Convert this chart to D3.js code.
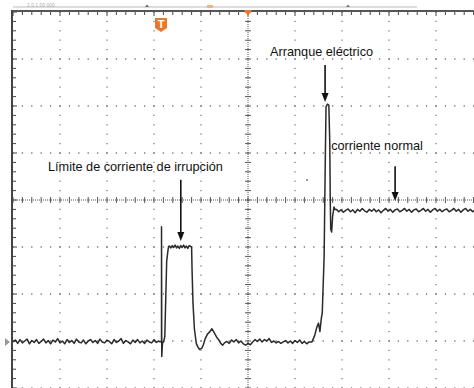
<!DOCTYPE html>
<html>
<head>
<meta charset="utf-8">
<script src="https://cdn.jsdelivr.net/npm/d3@7"></script>
<style>
  html, body { margin: 0; padding: 0; background: #fff; }
  svg { display: block; }
  text { font-family: "Liberation Sans", Arial, Helvetica, sans-serif; }
</style>
</head>
<body>
<script>
// ---- Data (time and current in screen divisions) ----
const gridDivX = [0, 1, 2, 3, 4, 5, 6, 7, 8, 9, 10];
const gridDivY = [-4, -3, -2, -1, 0, 1, 2, 3, 4];

const baselineBefore = [
  [0.00,-3.02],[0.05,-2.98],[0.10,-3.05],[0.15,-2.97],[0.20,-3.04],[0.25,-3.00],[0.30,-2.96],[0.35,-3.06],
  [0.40,-2.99],[0.45,-3.03],[0.50,-2.97],[0.55,-3.05],[0.60,-3.01],[0.65,-2.96],[0.70,-3.04],[0.75,-2.99],
  [0.80,-3.06],[0.85,-2.98],[0.90,-3.02],[0.95,-2.95],[1.00,-3.04],[1.05,-3.00],[1.10,-3.06],[1.15,-2.97],
  [1.20,-3.03],[1.25,-2.99],[1.30,-3.05],[1.35,-2.96],[1.40,-3.02],[1.45,-3.04],[1.50,-2.98],[1.55,-3.06],
  [1.60,-3.00],[1.65,-2.97],[1.70,-3.03],[1.75,-2.99],[1.80,-3.05],[1.85,-2.96],[1.90,-3.02],[1.95,-3.04],
  [2.00,-2.98],[2.05,-3.01],[2.10,-3.06],[2.15,-2.97],[2.20,-3.03],[2.25,-3.00],[2.30,-2.95],[2.35,-3.05],
  [2.40,-2.99],[2.45,-3.02],[2.50,-3.06],[2.55,-2.98],[2.60,-3.03],[2.65,-2.97],[2.70,-3.04],[2.75,-3.00],
  [2.80,-3.05],[2.85,-2.98],[2.90,-3.02],[2.95,-3.04],[3.00,-2.97],[3.05,-3.03],[3.10,-3.00],[3.13,-3.02]
];
const inrushSpike = [
  [3.16,-3.00],[3.16,-0.57],[3.165,-3.33],[3.18,-3.05],[3.21,-3.00],[3.23,-2.90],[3.27,-1.30],[3.30,-1.05],[3.31,-0.99]
];
const inrushPlateau = [
  [3.33,-0.98],[3.36,-1.02],[3.39,-0.97],[3.42,-1.01],[3.45,-0.96],[3.48,-1.02],[3.51,-0.98],[3.54,-1.03],
  [3.57,-0.97],[3.60,-1.01],[3.63,-0.96],[3.66,-1.02],[3.69,-0.98],[3.72,-1.03],[3.75,-0.97],[3.80,-1.00]
];
const ringDown = [
  [3.81,-1.50],[3.83,-2.20],[3.86,-2.75],[3.90,-3.05],[3.93,-3.12],[3.97,-3.18],[4.02,-3.15],[4.05,-3.08],
  [4.09,-2.95],[4.14,-2.85],[4.19,-2.80],[4.23,-2.74],[4.27,-2.80],[4.30,-2.86],[4.34,-2.93],[4.38,-2.98],
  [4.42,-3.05],[4.46,-3.09],[4.50,-3.04],[4.55,-3.01],[4.60,-3.05],[4.65,-2.98]
];
const baselineMid = [
  [4.70,-3.02],[4.75,-2.97],[4.80,-3.04],[4.85,-3.00],[4.90,-3.06],[4.95,-3.09],[5.00,-3.05],[5.05,-3.08],
  [5.10,-3.02],[5.15,-2.97],[5.20,-3.01],[5.25,-2.96],[5.30,-3.02],[5.35,-2.97],[5.40,-3.00],[5.45,-2.95],
  [5.50,-3.03],[5.55,-3.00],[5.60,-3.04],[5.65,-3.01],[5.70,-3.05],[5.75,-3.02],[5.80,-2.99],[5.85,-3.04],
  [5.90,-3.00],[5.95,-3.05],[6.00,-2.99],[6.05,-3.03],[6.10,-2.98],[6.15,-3.05],[6.20,-3.01],[6.25,-3.06],[6.30,-3.02]
];
const motorStart = [
  [6.36,-3.02],[6.42,-2.88],[6.46,-2.72],[6.50,-2.62],[6.53,-2.80],[6.56,-2.52],[6.58,-2.40],[6.62,-1.20],
  [6.64,0.50],[6.66,1.98],[6.69,2.04],[6.72,2.02],[6.74,1.20],[6.75,0.00],[6.76,-0.62],[6.78,-0.68],
  [6.80,-0.35],[6.83,-0.15],[6.85,-0.20]
];
const steadyState = [
  [6.88,-0.20],[6.93,-0.25],[6.98,-0.21],[7.03,-0.26],[7.08,-0.22],[7.13,-0.19],[7.18,-0.25],[7.23,-0.21],
  [7.28,-0.27],[7.33,-0.20],[7.38,-0.24],[7.43,-0.18],[7.48,-0.23],[7.53,-0.26],[7.58,-0.20],[7.63,-0.24],
  [7.68,-0.19],[7.73,-0.25],[7.78,-0.21],[7.83,-0.27],[7.88,-0.22],[7.93,-0.18],[7.98,-0.24],[8.03,-0.20],
  [8.08,-0.26],[8.13,-0.21],[8.18,-0.19],[8.23,-0.25],[8.28,-0.22],[8.33,-0.18],[8.38,-0.24],[8.43,-0.20],
  [8.48,-0.26],[8.53,-0.21],[8.58,-0.19],[8.63,-0.25],[8.68,-0.22],[8.73,-0.18],[8.78,-0.24],[8.83,-0.20],
  [8.88,-0.26],[8.93,-0.21],[8.98,-0.18],[9.03,-0.24],[9.08,-0.20],[9.13,-0.25],[9.18,-0.21],[9.23,-0.19],
  [9.28,-0.25],[9.33,-0.22],[9.38,-0.18],[9.43,-0.24],[9.48,-0.20],[9.53,-0.26],[9.58,-0.21],[9.63,-0.18],
  [9.68,-0.24],[9.73,-0.20],[9.78,-0.25],[9.83,-0.21]
];

// annotations: text anchor (t, v) and arrow from (t, v0) to tip (t, v1)
const annotLabels = ["Límite de corriente de irrupción", "Arranque eléctrico", "corriente normal"];
const annotTextPos = [[0.745, 0.62], [5.47, 3.06], [6.77, 1.06]];
const annotArrows = [[3.57, 0.43, -0.87], [6.64, 2.87, 2.085], [8.13, 0.72, -0.02]];

// ---- Drawing ----
const W = 474, H = 388;
const x = d3.scaleLinear().domain([0, 10]).range([13, 483]);
const y = d3.scaleLinear().domain([-4, 4]).range([388, 12]);
const minor = 47 / 5;

const svg = d3.select("body").append("svg").attr("width", W).attr("height", H);
svg.append("rect").attr("width", W).attr("height", H).attr("fill", "#fff");

// dotted grid lines
const g = svg.append("g");
gridDivX.filter(d => d > 0 && d !== 5).forEach(d => {
  g.append("line").attr("x1", x(d)).attr("x2", x(d)).attr("y1", y(4)).attr("y2", y(-4))
    .attr("stroke", "#7a7a7a").attr("stroke-width", 1.3).attr("stroke-dasharray", `1.3 ${minor - 1.3}`)
    .attr("stroke-dashoffset", 0.65);
});
gridDivY.filter(d => d !== 4 && d !== 0).forEach(d => {
  g.append("line").attr("x1", x(0)).attr("x2", W).attr("y1", y(d)).attr("y2", y(d))
    .attr("stroke", "#7a7a7a").attr("stroke-width", 1.3).attr("stroke-dasharray", `1.3 ${minor - 1.3}`)
    .attr("stroke-dashoffset", 0.65);
});

// center axes (fine dotted with ticks)
g.append("line").attr("x1", x(0)).attr("x2", W).attr("y1", y(0)).attr("y2", y(0))
  .attr("stroke", "#555").attr("stroke-width", 1).attr("stroke-dasharray", "1 1");
g.append("line").attr("x1", x(5)).attr("x2", x(5)).attr("y1", y(4)).attr("y2", y(-4))
  .attr("stroke", "#555").attr("stroke-width", 1).attr("stroke-dasharray", "1 1");
const ticksX = d3.range(0, 10.01, 0.2);
const ticksY = d3.range(-4, 4.01, 0.2);
g.selectAll(".tx").data(ticksX).join("line")
  .attr("x1", d => x(d)).attr("x2", d => x(d)).attr("y1", y(0) - 3).attr("y2", y(0) + 3)
  .attr("stroke", "#555").attr("stroke-width", 1);
g.selectAll(".ty").data(ticksY).join("line")
  .attr("y1", d => y(d)).attr("y2", d => y(d)).attr("x1", x(5) - 3).attr("x2", x(5) + 3)
  .attr("stroke", "#555").attr("stroke-width", 1);

// frame: top and left borders with ticks
g.selectAll(".tt").data(ticksX).join("line")
  .attr("x1", d => x(d)).attr("x2", d => x(d)).attr("y1", y(4)).attr("y2", d => y(4) + (Math.abs(d - Math.round(d)) < 0.01 ? 4 : 3))
  .attr("stroke", "#444").attr("stroke-width", 1);
g.selectAll(".tl").data(ticksY).join("line")
  .attr("y1", d => y(d)).attr("y2", d => y(d)).attr("x1", x(0)).attr("x2", d => x(0) + (Math.abs(d - Math.round(d)) < 0.01 ? 4 : 3))
  .attr("stroke", "#444").attr("stroke-width", 1);
g.append("line").attr("x1", x(0) - 1).attr("x2", W).attr("y1", y(4) - 1).attr("y2", y(4) - 1)
  .attr("stroke", "#555").attr("stroke-width", 2);
g.append("line").attr("x1", x(0) - 1).attr("x2", x(0) - 1).attr("y1", y(4) - 2).attr("y2", H)
  .attr("stroke", "#444").attr("stroke-width", 2);

// status bar above the screen
g.append("line").attr("x1", x(0)).attr("x2", 417).attr("y1", 7).attr("y2", 7)
  .attr("stroke", "#bbb").attr("stroke-width", 1);
g.append("text").attr("x", 27).attr("y", 7).attr("font-size", 5).attr("fill", "#aaa").text("1 0  1  00  000");
g.append("path").attr("d", "M145,7 L147,4.5 L149,7 Z").attr("fill", "#666");
g.append("rect").attr("x", 207).attr("y", 5).attr("width", 6).attr("height", 3).attr("fill", "#f0b27e");
g.append("path").attr("d", "M346,7 L348,4.5 L350,7 Z").attr("fill", "#777");

// trigger position marker
g.append("path").attr("d", `M${x(5) - 4},10 L${x(5) + 4},10 L${x(5)},16 Z`).attr("fill", "#E8782A");
// trigger "T" badge
g.append("path").attr("d", "M155,18 H167 V28 L161,32 L155,28 Z").attr("fill", "#E8782A");
g.append("text").attr("x", 161).attr("y", 28).attr("text-anchor", "middle").attr("font-size", 11)
  .attr("font-weight", "bold").attr("fill", "#fff").text("T");

// ground level marker
g.append("path").attr("d", `M5,${y(-3.02) - 4} L10,${y(-3.02)} L5,${y(-3.02) + 4} Z`).attr("fill", "#999");
g.append("rect").attr("x", 306).attr("y", 179).attr("width", 2).attr("height", 2).attr("fill", "#999");

// trace
const line = d3.line().x(d => x(d[0])).y(d => y(d[1]));
const trace = [].concat(baselineBefore, inrushSpike, inrushPlateau, ringDown, baselineMid, motorStart, steadyState);
svg.append("path").datum(trace).attr("d", line)
  .attr("fill", "none").attr("stroke", "#2a2a2a").attr("stroke-width", 1.5).attr("stroke-linejoin", "round");

// annotations
const ann = svg.append("g");
annotLabels.forEach((lab, i) => {
  ann.append("text").attr("x", x(annotTextPos[i][0])).attr("y", y(annotTextPos[i][1]))
    .attr("font-size", 12.7).attr("fill", "#111").text(lab);
  const [t, v0, v1] = annotArrows[i];
  const ax = x(t), ay0 = y(v0), ay1 = y(v1);
  ann.append("line").attr("x1", ax).attr("x2", ax).attr("y1", ay0).attr("y2", ay1 - 7)
    .attr("stroke", "#111").attr("stroke-width", 1.6);
  ann.append("path").attr("d", `M${ax - 3.5},${ay1 - 9} L${ax + 3.5},${ay1 - 9} L${ax},${ay1} Z`).attr("fill", "#111");
});
</script>
</body>
</html>
